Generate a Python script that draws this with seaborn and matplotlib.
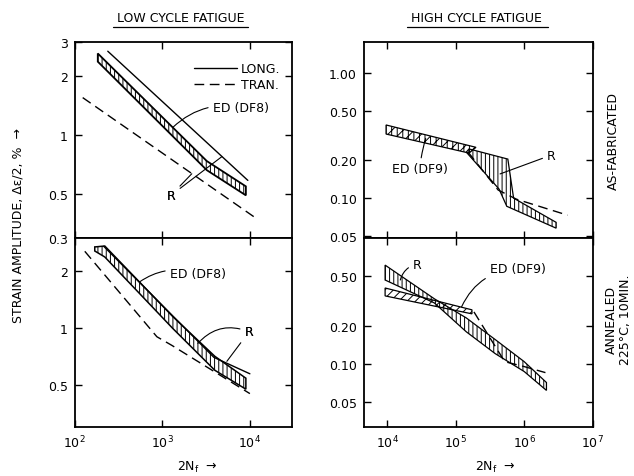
import matplotlib
matplotlib.use('Agg')
import matplotlib.pyplot as plt
from matplotlib.lines import Line2D
import seaborn as sns

sns.set_theme(style='ticks')
plt.rcParams['font.family'] = ['DejaVu Sans']
plt.rcParams['hatch.linewidth'] = 0.7
plt.rcParams['hatch.color'] = 'black'
plt.rcParams['text.color'] = 'black'
plt.rcParams['xtick.color'] = 'black'
plt.rcParams['ytick.color'] = 'black'
plt.rcParams['xtick.direction'] = 'in'
plt.rcParams['ytick.direction'] = 'in'

# ---- values (2Nf, strain amplitude %) ----
# low cycle fatigue, as-fabricated
lcf_af_long_n = [238, 9480]
lcf_af_long_e = [2.69, 0.59]
lcf_af_tran_n = [123, 12300]
lcf_af_tran_e = [1.56, 0.373]
lcf_af_ed_n = [183, 3225, 9000]
lcf_af_ed_hi = [2.62, 0.74, 0.55]
lcf_af_ed_lo = [2.38, 0.665, 0.495]

# low cycle fatigue, annealed
lcf_an_long_n = [214, 3880, 10000]
lcf_an_long_e = [2.71, 0.70, 0.573]
lcf_an_tran_n = [130, 866, 1285, 10000]
lcf_an_tran_e = [2.55, 0.90, 0.81, 0.45]
lcf_an_ed_n = [169, 220, 1318, 3980, 9000]
lcf_an_ed_hi = [2.69, 2.72, 1.15, 0.709, 0.543]
lcf_an_ed_lo = [2.56, 2.38, 0.995, 0.598, 0.475]

# high cycle fatigue, as-fabricated
hcf_af_ed_hi_n = [9680, 1.98e5]
hcf_af_ed_hi_e = [0.384, 0.2545]
hcf_af_ed_lo_n = [9680, 1.57e5]
hcf_af_ed_lo_e = [0.325, 0.229]
hcf_af_r_hi_n = [1.57e5, 5.77e5, 7.0e5, 2.92e6]
hcf_af_r_hi_e = [0.247, 0.205, 0.10, 0.064]
hcf_af_r_lo_n = [1.43e5, 4.3e5, 5.57e5, 2.92e6]
hcf_af_r_lo_e = [0.233, 0.118, 0.086, 0.0575]
hcf_af_tran_n = [1.52e5, 4.17e5, 7.7e5, 4.3e6]
hcf_af_tran_e = [0.233, 0.116, 0.098, 0.073]

# high cycle fatigue, annealed
hcf_an_r_n = [9370, 4.9e4, 1.43e5, 3.78e5, 1e6, 2.11e6]
hcf_an_r_hi = [0.610, 0.330, 0.233, 0.157, 0.105, 0.0718]
hcf_an_r_lo = [0.465, 0.306, 0.181, 0.1215, 0.0877, 0.0622]
hcf_an_ed_n = [9370, 1.73e5]
hcf_an_ed_hi = [0.402, 0.27]
hcf_an_ed_lo = [0.348, 0.251]
hcf_an_tran_n = [1.85e5, 3.43e5, 5.2e5, 1e6, 2.04e6]
hcf_an_tran_e = [0.26, 0.151, 0.105, 0.096, 0.086]

# axis ticks
lcf_xticks = [1e2, 1e3, 1e4]
lcf_xlabels = ['$10^2$', '$10^3$', '$10^4$']
hcf_xticks = [1e4, 1e5, 1e6, 1e7]
hcf_xlabels = ['$10^4$', '$10^5$', '$10^6$', '$10^7$']
lcf_top_yticks = [0.3, 0.5, 1, 2, 3]
lcf_top_ylabels = ['0.3', '0.5', '1', '2', '3']
lcf_bot_yticks = [0.5, 1, 2]
lcf_bot_ylabels = ['0.5', '1', '2']
hcf_top_yticks = [0.05, 0.1, 0.2, 0.5, 1.0]
hcf_top_ylabels = ['0.05', '0.10', '0.20', '0.50', '1.00']
hcf_bot_yticks = [0.05, 0.1, 0.2, 0.5]
hcf_bot_ylabels = ['0.05', '0.10', '0.20', '0.50']

DASH = (0, (7, 4))
FS = 9


def band(ax, n_hi, e_hi, n_lo, e_lo, hatch, lw=0.9):
    xs = list(n_hi) + list(n_lo)[::-1]
    ys = list(e_hi) + list(e_lo)[::-1]
    ax.fill(xs, ys, facecolor='none', edgecolor='black', hatch=hatch, linewidth=lw)


def line(ax, n, e, dashed=False, label=None):
    sns.lineplot(x=n, y=e, ax=ax, color='black', linewidth=1.0,
                 linestyle=DASH if dashed else '-', estimator=None,
                 errorbar=None, label=label)


def setup(ax, xlim, ylim, xticks, xlabels, yticks, ylabels, show_x):
    ax.set_xscale('log')
    ax.set_yscale('log')
    ax.set_xlim(*xlim)
    ax.set_ylim(*ylim)
    ax.minorticks_off()
    ax.set_xticks(xticks)
    ax.set_xticklabels(xlabels if show_x else [])
    ax.set_yticks(yticks)
    ax.set_yticklabels(ylabels)
    ax.tick_params(which='major', direction='in', length=5, width=1,
                   top=True, right=True, labelsize=FS, colors='black', pad=5)
    for s in ax.spines.values():
        s.set_linewidth(1.3)
        s.set_color('black')
    ax.set_facecolor('white')


def note(ax, text, xyt, xy, rad=0.0):
    ax.annotate(text, xy=xy, xycoords='data', xytext=xyt, textcoords='axes fraction',
                fontsize=FS, va='center', ha='left', color='black',
                arrowprops=dict(arrowstyle='-', color='black', lw=0.8,
                                shrinkA=1, shrinkB=0,
                                connectionstyle=f'arc3,rad={rad}'))


fig = plt.figure(figsize=(6.34, 4.77), dpi=100)
fig.patch.set_facecolor('white')
ax1 = fig.add_axes([0.118, 0.499, 0.342, 0.411])
ax2 = fig.add_axes([0.118, 0.103, 0.342, 0.396])
ax3 = fig.add_axes([0.574, 0.499, 0.361, 0.411])
ax4 = fig.add_axes([0.574, 0.103, 0.361, 0.396])

for ax in (ax1, ax2):
    ax.set_xscale('log')
    ax.set_yscale('log')

# low cycle, as-fabricated
line(ax1, lcf_af_long_n, lcf_af_long_e, label='LONG.')
line(ax1, lcf_af_tran_n, lcf_af_tran_e, dashed=True, label='TRAN.')
band(ax1, lcf_af_ed_n, lcf_af_ed_hi, lcf_af_ed_n, lcf_af_ed_lo, '||||', lw=1.3)
setup(ax1, (100, 3e4), (0.3, 3), lcf_xticks, lcf_xlabels,
      lcf_top_yticks, lcf_top_ylabels, False)
ax1.legend(loc='upper left', bbox_to_anchor=(0.5, 0.955), frameon=False,
           fontsize=FS, handlelength=3.4, handletextpad=0.3, labelspacing=0.25)
note(ax1, 'ED (DF8)', (0.636, 0.668), (1318, 1.10), rad=0.25)
note(ax1, 'R', (0.425, 0.219), (2170, 0.638), rad=0.0)
note(ax1, 'R', (0.425, 0.219), (4790, 0.78), rad=0.0)

# low cycle, annealed
line(ax2, lcf_an_long_n, lcf_an_long_e)
line(ax2, lcf_an_tran_n, lcf_an_tran_e, dashed=True)
band(ax2, lcf_an_ed_n, lcf_an_ed_hi, lcf_an_ed_n, lcf_an_ed_lo, '||||', lw=1.1)
setup(ax2, (100, 3e4), (0.3, 3), lcf_xticks, lcf_xlabels,
      lcf_bot_yticks, lcf_bot_ylabels, True)
note(ax2, 'ED (DF8)', (0.438, 0.81), (553, 1.76), rad=0.25)
note(ax2, 'R', (0.783, 0.503), (2545, 0.83), rad=0.35)
note(ax2, 'R', (0.783, 0.503), (5460, 0.667), rad=0.0)

for ax in (ax3, ax4):
    ax.set_xscale('log')
    ax.set_yscale('log')

# high cycle, as-fabricated
band(ax3, hcf_af_ed_hi_n, hcf_af_ed_hi_e, hcf_af_ed_lo_n, hcf_af_ed_lo_e, '|||///')
band(ax3, hcf_af_r_hi_n, hcf_af_r_hi_e, hcf_af_r_lo_n, hcf_af_r_lo_e, '||||')
line(ax3, hcf_af_tran_n, hcf_af_tran_e, dashed=True)
setup(ax3, (4.6e3, 1e7), (0.048, 1.77), hcf_xticks, hcf_xlabels,
      hcf_top_yticks, hcf_top_ylabels, False)
note(ax3, 'ED (DF9)', (0.122, 0.352), (3.66e4, 0.30), rad=-0.05)
note(ax3, 'R', (0.80, 0.423), (4.45e5, 0.156), rad=0.0)

# high cycle, annealed
band(ax4, hcf_an_r_n, hcf_an_r_hi, hcf_an_r_n, hcf_an_r_lo, '||||')
band(ax4, hcf_an_ed_n, hcf_an_ed_hi, hcf_an_ed_n, hcf_an_ed_lo, '////')
line(ax4, hcf_an_tran_n, hcf_an_tran_e, dashed=True)
setup(ax4, (4.6e3, 1e7), (0.032, 1.0), hcf_xticks, hcf_xlabels,
      hcf_bot_yticks, hcf_bot_ylabels, True)
note(ax4, 'R', (0.214, 0.862), (1.56e4, 0.465), rad=0.3)
note(ax4, 'ED (DF9)', (0.55, 0.836), (1.22e5, 0.285), rad=0.3)

for ax in (ax1, ax2, ax3, ax4):
    ax.set_xlabel('')
    ax.set_ylabel('')

# titles with underline
fig.text(0.2855, 0.962, 'LOW CYCLE FATIGUE', ha='center', va='center', fontsize=FS)
fig.text(0.752, 0.962, 'HIGH CYCLE FATIGUE', ha='center', va='center', fontsize=FS)
fig.add_artist(Line2D([113 / 634, 248 / 634], [1 - 28 / 477, 1 - 28 / 477],
                      color='black', lw=0.9))
fig.add_artist(Line2D([407 / 634, 548 / 634], [1 - 28 / 477, 1 - 28 / 477],
                      color='black', lw=0.9))

fig.text(0.028, 0.528, 'STRAIN AMPLITUDE, Δε/2, %  →', rotation=90,
         ha='center', va='center', fontsize=FS)
fig.text(0.311, 0.019, '2N$_{\\rm f}$  →', ha='center', va='center', fontsize=FS)
fig.text(0.782, 0.019, '2N$_{\\rm f}$  →', ha='center', va='center', fontsize=FS)
fig.text(0.967, 0.704, 'AS-FABRICATED', rotation=90, ha='center', va='center',
         fontsize=FS)
fig.text(0.975, 0.329, 'ANNEALED\n225°C, 10MIN.', rotation=90, ha='center',
         va='center', fontsize=FS, multialignment='center', linespacing=1.1)

fig.savefig('out.png', dpi=100, facecolor='white')
